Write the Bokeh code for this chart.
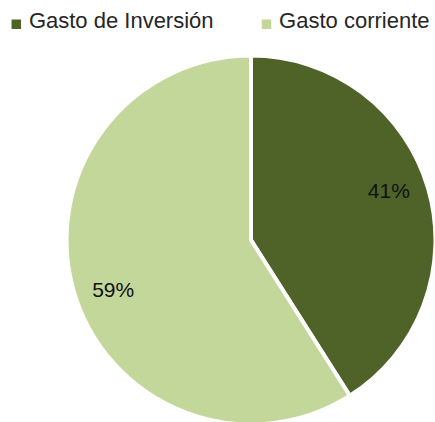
import math
from bokeh.plotting import figure
from bokeh.models import Range1d, ColumnDataSource
from bokeh.core.properties import value
from bokeh.embed import file_html
from bokeh.resources import INLINE

# ---- data ----
categories = ["Gasto de Inversión", "Gasto corriente"]
shares = [41, 59]
labels = ["41%", "59%"]
colors = ["#4F6228", "#C4D79B"]

# ---- layout (pixels, from top-left of the canvas) ----
W, H = 435, 422
CX, CY = 250.5, 239.5     # pie centre
R = 183.0                 # pie radius = pixels per data unit
FONT = "Liberation Sans"
LEGEND_SWATCH_X = [15.8, 266.0]   # swatch centres of the legend entries
LEGEND_SWATCH_Y = 23.7
LEGEND_TEXT_DX = 12.6             # label start relative to swatch centre
LEGEND_TEXT_MID = 19.5            # vertical centre of the legend labels


def px_x(v):
    return (v - CX) / R


def px_y(v):
    return (CY - v) / R


x_range = Range1d(-CX / R, (W - CX) / R)
y_range = Range1d(-(H - CY) / R, CY / R)

p = figure(width=W, height=H, x_range=x_range, y_range=y_range,
           output_backend="svg", toolbar_location=None, min_border=0,
           x_axis_type=None, y_axis_type=None, outline_line_color=None,
           background_fill_color="white", border_fill_color="white")
p.grid.visible = False

total = float(sum(shares))
starts, ends, lx, ly = [], [], [], []
cum = 0.0
label_offset = math.radians(3.5)
for s in shares:
    a0 = cum / total * 2 * math.pi
    cum += s
    a1 = cum / total * 2 * math.pi
    # clockwise from 12 o'clock
    starts.append(math.pi / 2 - a1)
    ends.append(math.pi / 2 - a0)
    mid = math.pi / 2 - (a0 + a1) / 2 + label_offset
    lx.append(0.8 * math.cos(mid))
    ly.append(0.8 * math.sin(mid))

src = ColumnDataSource(dict(start=starts, end=ends, color=colors,
                            x=[0] * len(shares), y=[0] * len(shares),
                            lx=lx, ly=ly, label=labels))

p.wedge(x="x", y="y", radius=1.008, start_angle="start", end_angle="end",
        direction="anticlock", fill_color="color", line_color="white",
        line_width=4, source=src)

p.text(x="lx", y="ly", text="label", source=src, text_align="center",
       text_baseline="middle", text_font=value(FONT), text_font_size="21px",
       text_color="#111111")

# ---- legend (square swatches + labels across the top) ----
leg = ColumnDataSource(dict(
    sx=[px_x(v) for v in LEGEND_SWATCH_X],
    sy=[px_y(LEGEND_SWATCH_Y)] * len(categories),
    tx=[px_x(v + LEGEND_TEXT_DX) for v in LEGEND_SWATCH_X],
    ty=[px_y(LEGEND_TEXT_MID)] * len(categories),
    name=categories, color=colors))

p.scatter(x="sx", y="sy", marker="square", size=9.5, fill_color="color",
          line_color=None, source=leg)
p.text(x="tx", y="ty", text="name", source=leg, text_align="left",
       text_baseline="middle", text_font=value(FONT),
       text_font_size="22px", text_color="#262626")

open("out.html", "w").write(file_html(p, INLINE))
